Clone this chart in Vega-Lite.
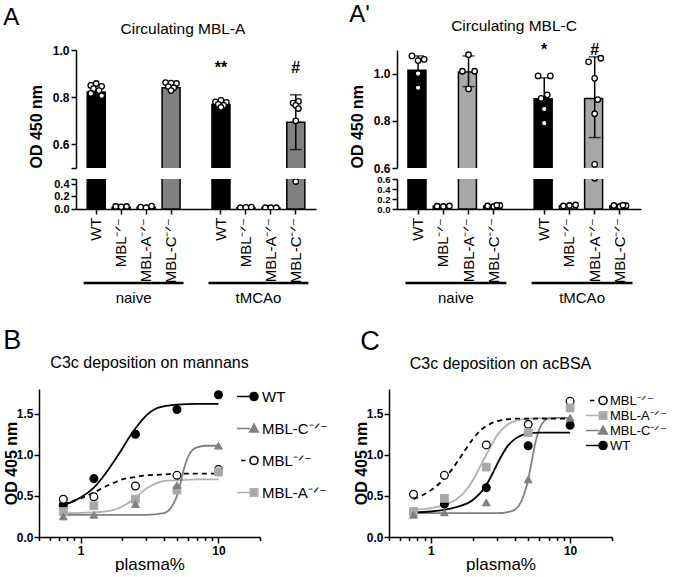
{
 "$schema": "https://vega.github.io/schema/vega-lite/v6.json",
 "background": "white",
 "padding": {"left": 3, "top": 3, "right": 0, "bottom": 0},
 "config": {
  "font": "Liberation Sans",
  "view": {"stroke": null},
  "axis": {"grid": false, "domainColor": "black", "tickColor": "black", "labelColor": "black", "titleColor": "black", "domainWidth": 1.5, "tickWidth": 1.5, "tickCount": 40, "labelOverlap": false},
  "title": {"color": "black", "fontWeight": "normal"},
  "legend": {"labelColor": "black"}
 },
 "datasets": {
  "barsA": [
   {"k":"naive|WT","g":"WT","m":0.822},
   {"k":"naive|MBL⁻ᐟ⁻","g":"MBL","m":0.03},
   {"k":"naive|MBL-A⁻ᐟ⁻","g":"MBL-A","m":0.03},
   {"k":"naive|MBL-C⁻ᐟ⁻","g":"MBL-C","m":0.84},
   {"k":"tMCAo|WT","g":"WT","m":0.769,"sig":"**"},
   {"k":"tMCAo|MBL⁻ᐟ⁻","g":"MBL","m":0.022},
   {"k":"tMCAo|MBL-A⁻ᐟ⁻","g":"MBL-A","m":0.018},
   {"k":"tMCAo|MBL-C⁻ᐟ⁻","g":"MBL-C","m":0.694,"lo":0.578,"hi":0.81,"sig":"#"}
  ],
  "ptsA": [
   {"k":"naive|WT","v":0.858,"r":4},{"k":"naive|WT","v":0.85,"r":2},{"k":"naive|WT","v":0.846,"r":6},{"k":"naive|WT","v":0.836,"r":3},{"k":"naive|WT","v":0.828,"r":5},{"k":"naive|WT","v":0.816,"r":2},{"k":"naive|WT","v":0.806,"r":6},
   {"k":"naive|MBL⁻ᐟ⁻","v":0.04,"r":2},{"k":"naive|MBL⁻ᐟ⁻","v":0.035,"r":4},{"k":"naive|MBL⁻ᐟ⁻","v":0.04,"r":6},
   {"k":"naive|MBL-A⁻ᐟ⁻","v":0.03,"r":2},{"k":"naive|MBL-A⁻ᐟ⁻","v":0.02,"r":4},{"k":"naive|MBL-A⁻ᐟ⁻","v":0.045,"r":6},
   {"k":"naive|MBL-C⁻ᐟ⁻","v":0.862,"r":2},{"k":"naive|MBL-C⁻ᐟ⁻","v":0.86,"r":4},{"k":"naive|MBL-C⁻ᐟ⁻","v":0.858,"r":6},{"k":"naive|MBL-C⁻ᐟ⁻","v":0.845,"r":3},{"k":"naive|MBL-C⁻ᐟ⁻","v":0.84,"r":5},{"k":"naive|MBL-C⁻ᐟ⁻","v":0.828,"r":4},
   {"k":"tMCAo|WT","v":0.787,"r":4},{"k":"tMCAo|WT","v":0.78,"r":2},{"k":"tMCAo|WT","v":0.778,"r":6},{"k":"tMCAo|WT","v":0.77,"r":3},{"k":"tMCAo|WT","v":0.765,"r":5},{"k":"tMCAo|WT","v":0.757,"r":4},
   {"k":"tMCAo|MBL⁻ᐟ⁻","v":0.02,"r":2},{"k":"tMCAo|MBL⁻ᐟ⁻","v":0.025,"r":4},{"k":"tMCAo|MBL⁻ᐟ⁻","v":0.03,"r":6},
   {"k":"tMCAo|MBL-A⁻ᐟ⁻","v":0.02,"r":2},{"k":"tMCAo|MBL-A⁻ᐟ⁻","v":0.02,"r":4},{"k":"tMCAo|MBL-A⁻ᐟ⁻","v":0.02,"r":6},
   {"k":"tMCAo|MBL-C⁻ᐟ⁻","v":0.782,"r":5},{"k":"tMCAo|MBL-C⁻ᐟ⁻","v":0.775,"r":3},{"k":"tMCAo|MBL-C⁻ᐟ⁻","v":0.765,"r":4},{"k":"tMCAo|MBL-C⁻ᐟ⁻","v":0.752,"r":5},{"k":"tMCAo|MBL-C⁻ᐟ⁻","v":0.70,"r":4},{"k":"tMCAo|MBL-C⁻ᐟ⁻","v":0.44,"r":4}
  ],
  "barsC": [
   {"k":"naive|WT","g":"WT","m":1.014,"lo":0.954,"hi":1.075},
   {"k":"naive|MBL⁻ᐟ⁻","g":"MBL","m":0.055},
   {"k":"naive|MBL-A⁻ᐟ⁻","g":"MBL-A","m":1.007,"lo":0.945,"hi":1.075},
   {"k":"naive|MBL-C⁻ᐟ⁻","g":"MBL-C","m":0.06},
   {"k":"tMCAo|WT","g":"WT","m":0.893,"lo":0.805,"hi":0.982,"sig":"*"},
   {"k":"tMCAo|MBL⁻ᐟ⁻","g":"MBL","m":0.065},
   {"k":"tMCAo|MBL-A⁻ᐟ⁻","g":"MBL-A","m":0.894,"lo":0.729,"hi":1.071,"sig":"#"},
   {"k":"tMCAo|MBL-C⁻ᐟ⁻","g":"MBL-C","m":0.06}
  ],
  "ptsC": [
   {"k":"naive|WT","v":1.075,"r":2},{"k":"naive|WT","v":1.06,"r":6},{"k":"naive|WT","v":1.055,"r":4},{"k":"naive|WT","v":1.0,"r":4},{"k":"naive|WT","v":0.94,"r":4},
   {"k":"naive|MBL⁻ᐟ⁻","v":0.055,"r":2},{"k":"naive|MBL⁻ᐟ⁻","v":0.05,"r":4},{"k":"naive|MBL⁻ᐟ⁻","v":0.06,"r":6},
   {"k":"naive|MBL-A⁻ᐟ⁻","v":1.08,"r":4},{"k":"naive|MBL-A⁻ᐟ⁻","v":1.01,"r":2},{"k":"naive|MBL-A⁻ᐟ⁻","v":1.01,"r":6},{"k":"naive|MBL-A⁻ᐟ⁻","v":0.935,"r":4},
   {"k":"naive|MBL-C⁻ᐟ⁻","v":0.06,"r":2},{"k":"naive|MBL-C⁻ᐟ⁻","v":0.05,"r":4},{"k":"naive|MBL-C⁻ᐟ⁻","v":0.07,"r":6},{"k":"naive|MBL-C⁻ᐟ⁻","v":0.075,"r":5},
   {"k":"tMCAo|WT","v":0.99,"r":2},{"k":"tMCAo|WT","v":0.99,"r":6},{"k":"tMCAo|WT","v":0.91,"r":5},{"k":"tMCAo|WT","v":0.895,"r":3},{"k":"tMCAo|WT","v":0.85,"r":4},{"k":"tMCAo|WT","v":0.79,"r":4},
   {"k":"tMCAo|MBL⁻ᐟ⁻","v":0.06,"r":2},{"k":"tMCAo|MBL⁻ᐟ⁻","v":0.07,"r":4},{"k":"tMCAo|MBL⁻ᐟ⁻","v":0.08,"r":6},
   {"k":"tMCAo|MBL-A⁻ᐟ⁻","v":1.065,"r":6},{"k":"tMCAo|MBL-A⁻ᐟ⁻","v":1.05,"r":2},{"k":"tMCAo|MBL-A⁻ᐟ⁻","v":0.98,"r":4},{"k":"tMCAo|MBL-A⁻ᐟ⁻","v":0.89,"r":5},{"k":"tMCAo|MBL-A⁻ᐟ⁻","v":0.83,"r":4},{"k":"tMCAo|MBL-A⁻ᐟ⁻","v":0.615,"r":4},
   {"k":"tMCAo|MBL-C⁻ᐟ⁻","v":0.07,"r":2},{"k":"tMCAo|MBL-C⁻ᐟ⁻","v":0.05,"r":4},{"k":"tMCAo|MBL-C⁻ᐟ⁻","v":0.065,"r":6},{"k":"tMCAo|MBL-C⁻ᐟ⁻","v":0.075,"r":5}
  ],
  "groups": [
   {"grp":"naive"},
   {"grp":"tMCAo"}
  ],
  "curveB": [
   {"g":"WT","x":0.75,"y":0.39},{"g":"WT","x":0.9,"y":0.44},{"g":"WT","x":1.0,"y":0.48},{"g":"WT","x":1.25,"y":0.6},{"g":"WT","x":1.5,"y":0.76},{"g":"WT","x":1.75,"y":0.92},{"g":"WT","x":2.0,"y":1.07},{"g":"WT","x":2.25,"y":1.21},{"g":"WT","x":2.5,"y":1.32},{"g":"WT","x":2.75,"y":1.41},{"g":"WT","x":3.0,"y":1.48},{"g":"WT","x":3.5,"y":1.56},{"g":"WT","x":4.0,"y":1.59},{"g":"WT","x":5.0,"y":1.61},{"g":"WT","x":7.0,"y":1.62},{"g":"WT","x":10,"y":1.62},
   {"g":"MBL⁻ᐟ⁻","x":0.75,"y":0.4},{"g":"MBL⁻ᐟ⁻","x":1.0,"y":0.47},{"g":"MBL⁻ᐟ⁻","x":1.25,"y":0.54},{"g":"MBL⁻ᐟ⁻","x":1.5,"y":0.61},{"g":"MBL⁻ᐟ⁻","x":1.75,"y":0.66},{"g":"MBL⁻ᐟ⁻","x":2.0,"y":0.7},{"g":"MBL⁻ᐟ⁻","x":2.5,"y":0.73},{"g":"MBL⁻ᐟ⁻","x":3.0,"y":0.75},{"g":"MBL⁻ᐟ⁻","x":4.0,"y":0.76},{"g":"MBL⁻ᐟ⁻","x":5.0,"y":0.77},{"g":"MBL⁻ᐟ⁻","x":7.0,"y":0.77},{"g":"MBL⁻ᐟ⁻","x":10,"y":0.77},
   {"g":"MBL-A⁻ᐟ⁻","x":0.75,"y":0.29},{"g":"MBL-A⁻ᐟ⁻","x":1.25,"y":0.3},{"g":"MBL-A⁻ᐟ⁻","x":1.5,"y":0.31},{"g":"MBL-A⁻ᐟ⁻","x":1.75,"y":0.33},{"g":"MBL-A⁻ᐟ⁻","x":2.0,"y":0.37},{"g":"MBL-A⁻ᐟ⁻","x":2.25,"y":0.42},{"g":"MBL-A⁻ᐟ⁻","x":2.5,"y":0.48},{"g":"MBL-A⁻ᐟ⁻","x":2.75,"y":0.54},{"g":"MBL-A⁻ᐟ⁻","x":3.0,"y":0.59},{"g":"MBL-A⁻ᐟ⁻","x":3.5,"y":0.65},{"g":"MBL-A⁻ᐟ⁻","x":4.0,"y":0.68},{"g":"MBL-A⁻ᐟ⁻","x":5.0,"y":0.69},{"g":"MBL-A⁻ᐟ⁻","x":7.0,"y":0.7},{"g":"MBL-A⁻ᐟ⁻","x":10,"y":0.7},
   {"g":"MBL-C⁻ᐟ⁻","x":0.75,"y":0.27},{"g":"MBL-C⁻ᐟ⁻","x":2.0,"y":0.27},{"g":"MBL-C⁻ᐟ⁻","x":3.0,"y":0.27},{"g":"MBL-C⁻ᐟ⁻","x":4.0,"y":0.29},{"g":"MBL-C⁻ᐟ⁻","x":4.5,"y":0.35},{"g":"MBL-C⁻ᐟ⁻","x":4.8,"y":0.43},{"g":"MBL-C⁻ᐟ⁻","x":5.0,"y":0.5},{"g":"MBL-C⁻ᐟ⁻","x":5.3,"y":0.65},{"g":"MBL-C⁻ᐟ⁻","x":5.6,"y":0.82},{"g":"MBL-C⁻ᐟ⁻","x":6.0,"y":0.97},{"g":"MBL-C⁻ᐟ⁻","x":6.5,"y":1.06},{"g":"MBL-C⁻ᐟ⁻","x":7.0,"y":1.09},{"g":"MBL-C⁻ᐟ⁻","x":8.0,"y":1.11},{"g":"MBL-C⁻ᐟ⁻","x":10,"y":1.11}
  ],
  "ptsB": [
   {"g":"WT","x":0.75,"y":0.39},{"g":"WT","x":1.25,"y":0.71},{"g":"WT","x":2.5,"y":1.25},{"g":"WT","x":5,"y":1.55},{"g":"WT","x":10,"y":1.73},
   {"g":"MBL⁻ᐟ⁻","x":0.75,"y":0.46},{"g":"MBL⁻ᐟ⁻","x":1.25,"y":0.49},{"g":"MBL⁻ᐟ⁻","x":2.5,"y":0.62},{"g":"MBL⁻ᐟ⁻","x":5,"y":0.75},{"g":"MBL⁻ᐟ⁻","x":10,"y":0.82},
   {"g":"MBL-A⁻ᐟ⁻","x":0.75,"y":0.31},{"g":"MBL-A⁻ᐟ⁻","x":1.25,"y":0.38},{"g":"MBL-A⁻ᐟ⁻","x":2.5,"y":0.46},{"g":"MBL-A⁻ᐟ⁻","x":5,"y":0.57},{"g":"MBL-A⁻ᐟ⁻","x":10,"y":0.79},
   {"g":"MBL-C⁻ᐟ⁻","x":0.75,"y":0.25},{"g":"MBL-C⁻ᐟ⁻","x":1.25,"y":0.27},{"g":"MBL-C⁻ᐟ⁻","x":2.5,"y":0.4},{"g":"MBL-C⁻ᐟ⁻","x":5,"y":0.63},{"g":"MBL-C⁻ᐟ⁻","x":10,"y":1.11}
  ],
  "curveC": [
   {"g":"MBL⁻ᐟ⁻","x":0.75,"y":0.46},{"g":"MBL⁻ᐟ⁻","x":1.0,"y":0.57},{"g":"MBL⁻ᐟ⁻","x":1.25,"y":0.71},{"g":"MBL⁻ᐟ⁻","x":1.5,"y":0.88},{"g":"MBL⁻ᐟ⁻","x":1.75,"y":1.05},{"g":"MBL⁻ᐟ⁻","x":2.0,"y":1.19},{"g":"MBL⁻ᐟ⁻","x":2.25,"y":1.29},{"g":"MBL⁻ᐟ⁻","x":2.5,"y":1.35},{"g":"MBL⁻ᐟ⁻","x":3.0,"y":1.41},{"g":"MBL⁻ᐟ⁻","x":3.5,"y":1.43},{"g":"MBL⁻ᐟ⁻","x":4.0,"y":1.44},{"g":"MBL⁻ᐟ⁻","x":6.0,"y":1.44},{"g":"MBL⁻ᐟ⁻","x":10,"y":1.44},
   {"g":"MBL-A⁻ᐟ⁻","x":0.75,"y":0.33},{"g":"MBL-A⁻ᐟ⁻","x":1.0,"y":0.35},{"g":"MBL-A⁻ᐟ⁻","x":1.25,"y":0.39},{"g":"MBL-A⁻ᐟ⁻","x":1.5,"y":0.45},{"g":"MBL-A⁻ᐟ⁻","x":1.75,"y":0.55},{"g":"MBL-A⁻ᐟ⁻","x":2.0,"y":0.69},{"g":"MBL-A⁻ᐟ⁻","x":2.25,"y":0.85},{"g":"MBL-A⁻ᐟ⁻","x":2.5,"y":1.0},{"g":"MBL-A⁻ᐟ⁻","x":2.75,"y":1.13},{"g":"MBL-A⁻ᐟ⁻","x":3.0,"y":1.24},{"g":"MBL-A⁻ᐟ⁻","x":3.5,"y":1.36},{"g":"MBL-A⁻ᐟ⁻","x":4.0,"y":1.41},{"g":"MBL-A⁻ᐟ⁻","x":5.0,"y":1.44},{"g":"MBL-A⁻ᐟ⁻","x":7.0,"y":1.45},{"g":"MBL-A⁻ᐟ⁻","x":10,"y":1.45},
   {"g":"MBL-C⁻ᐟ⁻","x":0.75,"y":0.29},{"g":"MBL-C⁻ᐟ⁻","x":2.0,"y":0.29},{"g":"MBL-C⁻ᐟ⁻","x":3.0,"y":0.29},{"g":"MBL-C⁻ᐟ⁻","x":3.5,"y":0.3},{"g":"MBL-C⁻ᐟ⁻","x":4.0,"y":0.33},{"g":"MBL-C⁻ᐟ⁻","x":4.5,"y":0.45},{"g":"MBL-C⁻ᐟ⁻","x":4.8,"y":0.58},{"g":"MBL-C⁻ᐟ⁻","x":5.0,"y":0.7},{"g":"MBL-C⁻ᐟ⁻","x":5.3,"y":0.92},{"g":"MBL-C⁻ᐟ⁻","x":5.6,"y":1.13},{"g":"MBL-C⁻ᐟ⁻","x":6.0,"y":1.31},{"g":"MBL-C⁻ᐟ⁻","x":6.5,"y":1.41},{"g":"MBL-C⁻ᐟ⁻","x":7.0,"y":1.44},{"g":"MBL-C⁻ᐟ⁻","x":8.0,"y":1.45},{"g":"MBL-C⁻ᐟ⁻","x":10,"y":1.45},
   {"g":"WT","x":0.75,"y":0.3},{"g":"WT","x":1.0,"y":0.31},{"g":"WT","x":1.25,"y":0.33},{"g":"WT","x":1.5,"y":0.36},{"g":"WT","x":2.0,"y":0.45},{"g":"WT","x":2.25,"y":0.53},{"g":"WT","x":2.5,"y":0.63},{"g":"WT","x":2.75,"y":0.76},{"g":"WT","x":3.0,"y":0.89},{"g":"WT","x":3.25,"y":1.0},{"g":"WT","x":3.5,"y":1.09},{"g":"WT","x":4.0,"y":1.19},{"g":"WT","x":4.5,"y":1.24},{"g":"WT","x":5.0,"y":1.26},{"g":"WT","x":6.0,"y":1.27},{"g":"WT","x":10,"y":1.27}
  ],
  "ptsC2": [
   {"g":"WT","x":0.75,"y":0.3},{"g":"WT","x":1.25,"y":0.4},{"g":"WT","x":2.5,"y":0.6},{"g":"WT","x":5,"y":1.11},{"g":"WT","x":10,"y":1.36},
   {"g":"MBL⁻ᐟ⁻","x":0.75,"y":0.52},{"g":"MBL⁻ᐟ⁻","x":1.25,"y":0.75},{"g":"MBL⁻ᐟ⁻","x":2.5,"y":1.12},{"g":"MBL⁻ᐟ⁻","x":5,"y":1.37},{"g":"MBL⁻ᐟ⁻","x":10,"y":1.65},
   {"g":"MBL-A⁻ᐟ⁻","x":0.75,"y":0.31},{"g":"MBL-A⁻ᐟ⁻","x":1.25,"y":0.47},{"g":"MBL-A⁻ᐟ⁻","x":2.5,"y":0.85},{"g":"MBL-A⁻ᐟ⁻","x":5,"y":1.27},{"g":"MBL-A⁻ᐟ⁻","x":10,"y":1.57},
   {"g":"MBL-C⁻ᐟ⁻","x":0.75,"y":0.27},{"g":"MBL-C⁻ᐟ⁻","x":1.25,"y":0.3},{"g":"MBL-C⁻ᐟ⁻","x":2.5,"y":0.42},{"g":"MBL-C⁻ᐟ⁻","x":5,"y":0.7},{"g":"MBL-C⁻ᐟ⁻","x":10,"y":1.45}
  ],
  "spacer": [{"s": 1}]
 },
 "resolve": {"scale": {"fill": "independent", "stroke": "independent", "color": "independent", "shape": "independent", "strokeDash": "independent", "xOffset": "independent"}},
 "columns": 1,
 "spacing": 21,
 "concat": [
  {
   "spacing": -40,
   "resolve": {"scale": {"fill": "independent", "stroke": "independent", "color": "independent", "shape": "independent", "strokeDash": "independent", "xOffset": "independent"}},
   "hconcat": [
    {"width": 1, "height": 1, "data": {"name": "spacer"}, "mark": {"type": "point", "opacity": 0}, "encoding": {}},
    {
     "spacing": 33,
     "resolve": {"scale": {"fill": "independent", "stroke": "independent", "color": "independent", "shape": "independent", "strokeDash": "independent", "xOffset": "independent"}},
     "hconcat": [
      {
       "title": {"text": "A", "anchor": "start", "fontSize": 24, "dx": -25, "offset": -8},
       "spacing": 11,
       "bounds": "flush",
       "resolve": {"scale": {"fill": "independent", "xOffset": "independent"}},
       "vconcat": [
        {
         "width": 240, "height": 118,
         "title": {"text": "Circulating MBL-A", "fontSize": 15.5, "dx": -13, "offset": 7},
         "layer": [
          {"data": {"name": "barsA"}, "mark": {"type": "bar", "clip": true, "stroke": "black", "strokeWidth": 1.5},
           "encoding": {
            "x": {"field": "k", "type": "nominal", "scale": {"domain": ["naive|WT","naive|MBL⁻ᐟ⁻","naive|MBL-A⁻ᐟ⁻","naive|MBL-C⁻ᐟ⁻","gap","tMCAo|WT","tMCAo|MBL⁻ᐟ⁻","tMCAo|MBL-A⁻ᐟ⁻","tMCAo|MBL-C⁻ᐟ⁻"], "paddingInner": 0.28, "paddingOuter": 0.45}, "axis": null},
            "y": {"field": "m", "type": "quantitative", "scale": {"domain": [0.5, 1.0], "zero": false, "nice": false},
                  "axis": {"values": [0.5, 0.6, 0.8, 1.0], "labelExpr": "datum.value < 0.55 ? '' : format(datum.value, '.1f')", "title": "OD 450 nm", "titleFontSize": 16, "titleFontWeight": "bold", "titleAnchor": "start", "titlePadding": 8, "labelFontSize": 12, "labelFontWeight": "bold", "tickSize": 5, "labelPadding": 2}},
            "y2": {"datum": 0},
            "fill": {"field": "g", "type": "nominal", "scale": {"domain": ["WT","MBL","MBL-A","MBL-C"], "range": ["black","white","#a8a8a8","#808080"]}, "legend": null}
           }},
          {"data": {"name": "barsA"}, "transform": [{"filter": "isValid(datum.hi)"}], "mark": {"type": "rule", "clip": true, "strokeWidth": 1.5, "color": "black"},
           "encoding": {"x": {"field": "k", "type": "nominal"}, "y": {"field": "lo", "type": "quantitative"}, "y2": {"field": "hi"}}},
          {"data": {"name": "barsA"}, "transform": [{"filter": "isValid(datum.hi)"}], "mark": {"type": "tick", "clip": true, "thickness": 1.5, "size": 12, "color": "black", "orient": "horizontal"},
           "encoding": {"x": {"field": "k", "type": "nominal"}, "y": {"field": "lo", "type": "quantitative"}}},
          {"data": {"name": "barsA"}, "transform": [{"filter": "isValid(datum.hi)"}], "mark": {"type": "tick", "clip": true, "thickness": 1.5, "size": 12, "color": "black", "orient": "horizontal"},
           "encoding": {"x": {"field": "k", "type": "nominal"}, "y": {"field": "hi", "type": "quantitative"}}},
          {"data": {"name": "ptsA"}, "mark": {"type": "point", "shape": "circle", "filled": true, "fill": "white", "stroke": "black", "strokeWidth": 1.3, "size": 30, "opacity": 1, "clip": true},
           "encoding": {"x": {"field": "k", "type": "nominal"}, "xOffset": {"field": "r", "type": "ordinal", "scale": {"domain": [1,2,3,4,5,6,7], "paddingOuter": 0.3}}, "y": {"field": "v", "type": "quantitative"}}},
          {"data": {"name": "barsA"}, "transform": [{"filter": "isValid(datum.sig)"}], "mark": {"type": "text", "fontSize": 16, "fontWeight": "bold", "baseline": "alphabetic", "align": "center"},
           "encoding": {"x": {"field": "k", "type": "nominal"}, "y": {"datum": 0.904}, "text": {"field": "sig"}}}
         ]
        },
        {
         "width": 240, "height": 30,
         "layer": [
          {"data": {"name": "barsA"}, "mark": {"type": "bar", "clip": true, "stroke": "black", "strokeWidth": 1.5},
           "encoding": {
            "x": {"field": "k", "type": "nominal", "scale": {"domain": ["naive|WT","naive|MBL⁻ᐟ⁻","naive|MBL-A⁻ᐟ⁻","naive|MBL-C⁻ᐟ⁻","gap","tMCAo|WT","tMCAo|MBL⁻ᐟ⁻","tMCAo|MBL-A⁻ᐟ⁻","tMCAo|MBL-C⁻ᐟ⁻"], "paddingInner": 0.28, "paddingOuter": 0.45},
                  "axis": {"values": ["naive|WT","naive|MBL⁻ᐟ⁻","naive|MBL-A⁻ᐟ⁻","naive|MBL-C⁻ᐟ⁻","tMCAo|WT","tMCAo|MBL⁻ᐟ⁻","tMCAo|MBL-A⁻ᐟ⁻","tMCAo|MBL-C⁻ᐟ⁻"], "labelExpr": "split(datum.label, '|')[1]", "labelAngle": -90, "labelFontSize": 15, "tickSize": 5, "labelPadding": 3, "title": null}},
            "y": {"field": "m", "type": "quantitative", "scale": {"domain": [0, 0.48], "nice": false},
                  "axis": {"values": [0, 0.2, 0.4, 0.48], "labelExpr": "datum.value > 0.45 ? '' : format(datum.value, '.1f')", "title": null, "labelFontSize": 11, "labelFontWeight": "bold", "tickSize": 5, "labelPadding": 2}},
            "y2": {"datum": 0},
            "fill": {"field": "g", "type": "nominal", "scale": {"domain": ["WT","MBL","MBL-A","MBL-C"], "range": ["black","white","#a8a8a8","#808080"]}, "legend": null}
           }},
          {"data": {"name": "ptsA"}, "mark": {"type": "point", "shape": "circle", "filled": true, "fill": "white", "stroke": "black", "strokeWidth": 1.3, "size": 30, "opacity": 1, "clip": true},
           "encoding": {"x": {"field": "k", "type": "nominal"}, "xOffset": {"field": "r", "type": "ordinal", "scale": {"domain": [1,2,3,4,5,6,7], "paddingOuter": 0.3}}, "y": {"field": "v", "type": "quantitative"}}}
         ]
        },
        {
         "width": 240, "height": 83,
         "data": {"name": "groups"},
         "layer": [
          {"mark": {"type": "rule", "strokeWidth": 2.5, "color": "black"},
           "encoding": {
            "x": {"field": "grp", "type": "nominal", "bandPosition": 0, "scale": {"domain": ["naive", "tMCAo"], "paddingInner": 0.2, "paddingOuter": 0.0615}, "axis": null},
            "x2": {"field": "grp", "bandPosition": 1},
            "y": {"datum": 20, "type": "quantitative", "scale": {"domain": [0, 83], "nice": false}, "axis": null}
           }},
          {"mark": {"type": "text", "fontSize": 15, "baseline": "alphabetic", "align": "center"},
           "encoding": {
            "x": {"field": "grp", "type": "nominal"},
            "y": {"datum": 0, "type": "quantitative"},
            "text": {"field": "grp"}
           }}
         ]
        }
       ]
      },
      {
       "title": {"text": "A'", "anchor": "start", "fontSize": 24, "dx": 0, "offset": -8},
       "spacing": 11,
       "bounds": "flush",
       "resolve": {"scale": {"fill": "independent", "xOffset": "independent"}},
       "vconcat": [
        {
         "width": 244, "height": 118,
         "title": {"text": "Circulating MBL-C", "fontSize": 15.5, "dx": -5, "offset": 7},
         "layer": [
          {"data": {"name": "barsC"}, "mark": {"type": "bar", "clip": true, "stroke": "black", "strokeWidth": 1.5},
           "encoding": {
            "x": {"field": "k", "type": "nominal", "scale": {"domain": ["naive|WT","naive|MBL⁻ᐟ⁻","naive|MBL-A⁻ᐟ⁻","naive|MBL-C⁻ᐟ⁻","gap","tMCAo|WT","tMCAo|MBL⁻ᐟ⁻","tMCAo|MBL-A⁻ᐟ⁻","tMCAo|MBL-C⁻ᐟ⁻"], "paddingInner": 0.2, "paddingOuter": 0.435}, "axis": null},
            "y": {"field": "m", "type": "quantitative", "scale": {"domain": [0.6, 1.1], "zero": false, "nice": false},
                  "axis": {"values": [0.6, 0.8, 1.0], "format": ".1f", "title": "OD 450 nm", "titleFontSize": 16, "titleFontWeight": "bold", "titleAnchor": "start", "titlePadding": 8, "labelFontSize": 12, "labelFontWeight": "bold", "tickSize": 5, "labelPadding": 2}},
            "y2": {"datum": 0},
            "fill": {"field": "g", "type": "nominal", "scale": {"domain": ["WT","MBL","MBL-A","MBL-C"], "range": ["black","white","#a8a8a8","#808080"]}, "legend": null}
           }},
          {"data": {"name": "barsC"}, "transform": [{"filter": "isValid(datum.hi)"}], "mark": {"type": "rule", "clip": true, "strokeWidth": 1.5, "color": "black"},
           "encoding": {"x": {"field": "k", "type": "nominal"}, "y": {"field": "lo", "type": "quantitative"}, "y2": {"field": "hi"}}},
          {"data": {"name": "barsC"}, "transform": [{"filter": "isValid(datum.hi)"}], "mark": {"type": "tick", "clip": true, "thickness": 1.5, "size": 12, "color": "black", "orient": "horizontal"},
           "encoding": {"x": {"field": "k", "type": "nominal"}, "y": {"field": "lo", "type": "quantitative"}}},
          {"data": {"name": "barsC"}, "transform": [{"filter": "isValid(datum.hi)"}], "mark": {"type": "tick", "clip": true, "thickness": 1.5, "size": 12, "color": "black", "orient": "horizontal"},
           "encoding": {"x": {"field": "k", "type": "nominal"}, "y": {"field": "hi", "type": "quantitative"}}},
          {"data": {"name": "ptsC"}, "mark": {"type": "point", "shape": "circle", "filled": true, "fill": "white", "stroke": "black", "strokeWidth": 1.3, "size": 30, "opacity": 1, "clip": true},
           "encoding": {"x": {"field": "k", "type": "nominal"}, "xOffset": {"field": "r", "type": "ordinal", "scale": {"domain": [1,2,3,4,5,6,7], "paddingOuter": 0.3}}, "y": {"field": "v", "type": "quantitative"}}},
          {"data": {"name": "barsC"}, "transform": [{"filter": "isValid(datum.sig)"}], "mark": {"type": "text", "fontSize": 16, "fontWeight": "bold", "baseline": "alphabetic", "align": "center"},
           "encoding": {"x": {"field": "k", "type": "nominal"}, "y": {"datum": 1.079}, "text": {"field": "sig"}}}
         ]
        },
        {
         "width": 244, "height": 30,
         "layer": [
          {"data": {"name": "barsC"}, "mark": {"type": "bar", "clip": true, "stroke": "black", "strokeWidth": 1.5},
           "encoding": {
            "x": {"field": "k", "type": "nominal", "scale": {"domain": ["naive|WT","naive|MBL⁻ᐟ⁻","naive|MBL-A⁻ᐟ⁻","naive|MBL-C⁻ᐟ⁻","gap","tMCAo|WT","tMCAo|MBL⁻ᐟ⁻","tMCAo|MBL-A⁻ᐟ⁻","tMCAo|MBL-C⁻ᐟ⁻"], "paddingInner": 0.2, "paddingOuter": 0.435},
                  "axis": {"values": ["naive|WT","naive|MBL⁻ᐟ⁻","naive|MBL-A⁻ᐟ⁻","naive|MBL-C⁻ᐟ⁻","tMCAo|WT","tMCAo|MBL⁻ᐟ⁻","tMCAo|MBL-A⁻ᐟ⁻","tMCAo|MBL-C⁻ᐟ⁻"], "labelExpr": "split(datum.label, '|')[1]", "labelAngle": -90, "labelFontSize": 15, "tickSize": 5, "labelPadding": 3, "title": null}},
            "y": {"field": "m", "type": "quantitative", "scale": {"domain": [0, 0.6], "nice": false},
                  "axis": {"values": [0, 0.2, 0.4, 0.6], "format": ".1f", "title": null, "labelFontSize": 9.5, "labelFontWeight": "bold", "tickSize": 5, "labelPadding": 2}},
            "y2": {"datum": 0},
            "fill": {"field": "g", "type": "nominal", "scale": {"domain": ["WT","MBL","MBL-A","MBL-C"], "range": ["black","white","#a8a8a8","#808080"]}, "legend": null}
           }},
          {"data": {"name": "ptsC"}, "mark": {"type": "point", "shape": "circle", "filled": true, "fill": "white", "stroke": "black", "strokeWidth": 1.3, "size": 30, "opacity": 1, "clip": true},
           "encoding": {"x": {"field": "k", "type": "nominal"}, "xOffset": {"field": "r", "type": "ordinal", "scale": {"domain": [1,2,3,4,5,6,7], "paddingOuter": 0.3}}, "y": {"field": "v", "type": "quantitative"}}}
         ]
        },
        {
         "width": 244, "height": 83,
         "data": {"name": "groups"},
         "layer": [
          {"mark": {"type": "rule", "strokeWidth": 2.5, "color": "black"},
           "encoding": {
            "x": {"field": "grp", "type": "nominal", "bandPosition": 0, "scale": {"domain": ["naive", "tMCAo"], "paddingInner": 0.2, "paddingOuter": 0.0675}, "axis": null},
            "x2": {"field": "grp", "bandPosition": 1},
            "y": {"datum": 20, "type": "quantitative", "scale": {"domain": [0, 83], "nice": false}, "axis": null}
           }},
          {"mark": {"type": "text", "fontSize": 15, "baseline": "alphabetic", "align": "center"},
           "encoding": {
            "x": {"field": "grp", "type": "nominal"},
            "y": {"datum": 0, "type": "quantitative"},
            "text": {"field": "grp"}
           }}
         ]
        }
       ]
      }
     ]
    }
   ]
  },
  {
   "spacing": 25,
   "resolve": {"scale": {"fill": "independent", "stroke": "independent", "color": "independent", "shape": "independent", "strokeDash": "independent", "xOffset": "independent"}},
   "hconcat": [
    {
     "title": {"text": "B", "anchor": "start", "fontSize": 27, "dx": 0, "offset": 0},
     "vconcat": [
      {
       "width": 221, "height": 148,
       "title": {"text": "C3c deposition on mannans", "fontSize": 16, "offset": 17},
       "encoding": {
        "x": {"field": "x", "type": "quantitative", "scale": {"type": "log", "domain": [0.5, 20], "nice": false},
              "axis": {"values": [0.5,0.6,0.7,0.8,0.9,1,2,3,4,5,6,7,8,9,10,20], "labelExpr": "datum.value == 1 || datum.value == 10 ? datum.label : ''", "format": "~g", "tickSize": {"condition": {"test": "datum.value == 1 || datum.value == 10", "value": 6}, "value": 3.5}, "title": "plasma%", "titleFontSize": 17, "titleFontWeight": "normal", "labelFontSize": 12, "labelFontWeight": "bold", "labelFlush": false, "labelPadding": 2, "titlePadding": 0}},
        "y": {"field": "y", "type": "quantitative", "scale": {"domain": [0, 1.8], "nice": false},
              "axis": {"values": [0, 0.5, 1, 1.5], "format": ".1f", "title": "OD 405 nm", "titleFontSize": 16, "titleFontWeight": "bold", "titlePadding": -3, "labelFontSize": 12, "labelFontWeight": "bold", "tickSize": 5, "labelPadding": 1}}
       },
       "layer": [
        {"data": {"name": "curveB"}, "transform": [{"filter": "datum.g !== 'MBL⁻ᐟ⁻'"}], "mark": {"type": "line", "strokeWidth": 1.8, "interpolate": "monotone"},
         "encoding": {
          "color": {"field": "g", "type": "nominal", "scale": {"domain": ["WT","MBL-C⁻ᐟ⁻","MBL⁻ᐟ⁻","MBL-A⁻ᐟ⁻"], "range": ["black","#808080","black","#b0b0b0"]},
                    "legend": {"title": null, "orient": "right", "offset": -20, "padding": 0, "labelFontSize": 15, "symbolSize": 100, "rowPadding": 16, "labelOffset": 6,
                               "encode": {"symbols": {"update": {
                                 "shape": {"signal": "datum.value === 'WT' ? 'M-2.3,0H0.3M0.3,0A0.8,0.8,0,1,1,1.9,0A0.8,0.8,0,1,1,0.3,0Z' : datum.value === 'MBL⁻ᐟ⁻' ? 'M-1.5,0H-0.6M0.3,0A0.8,0.8,0,1,1,1.9,0A0.8,0.8,0,1,1,0.3,0Z' : datum.value === 'MBL-A⁻ᐟ⁻' ? 'M-2.3,0H0.35M0.35,-0.75H1.85V0.75H0.35Z' : 'M-2.3,0H0.3M1.1,-0.85L1.95,0.7H0.25Z'"},
                                 "fill": {"signal": "datum.value === 'WT' ? 'black' : datum.value === 'MBL⁻ᐟ⁻' ? 'white' : datum.value === 'MBL-A⁻ᐟ⁻' ? '#a8a8a8' : '#808080'"},
                                 "stroke": {"signal": "datum.value === 'MBL-A⁻ᐟ⁻' ? '#a8a8a8' : datum.value === 'MBL-C⁻ᐟ⁻' ? '#808080' : 'black'"},
                                 "strokeWidth": {"value": 1.6}, "opacity": {"value": 1}}}}}}
         }},
        {"data": {"name": "curveB"}, "transform": [{"filter": "datum.g === 'MBL⁻ᐟ⁻'"}], "mark": {"type": "line", "strokeWidth": 1.8, "interpolate": "monotone", "strokeDash": [5, 4]},
         "encoding": {"color": {"field": "g", "type": "nominal"}}},
        {"data": {"name": "ptsB"}, "transform": [{"filter": "datum.g === 'WT'"}], "mark": {"type": "point", "shape": "circle", "filled": true, "size": 60, "fill": "black", "stroke": "black", "strokeWidth": 1.3, "opacity": 1}},
        {"data": {"name": "ptsB"}, "transform": [{"filter": "datum.g === 'MBL⁻ᐟ⁻'"}], "mark": {"type": "point", "shape": "circle", "filled": true, "size": 60, "fill": "white", "stroke": "black", "strokeWidth": 1.3, "opacity": 1}},
        {"data": {"name": "ptsB"}, "transform": [{"filter": "datum.g === 'MBL-A⁻ᐟ⁻'"}], "mark": {"type": "point", "shape": "square", "filled": true, "size": 60, "fill": "#a8a8a8", "stroke": "#a8a8a8", "strokeWidth": 1, "opacity": 1}},
        {"data": {"name": "ptsB"}, "transform": [{"filter": "datum.g === 'MBL-C⁻ᐟ⁻'"}], "mark": {"type": "point", "shape": "triangle-up", "filled": true, "size": 60, "fill": "#808080", "stroke": "#808080", "strokeWidth": 1, "opacity": 1}}
       ]
      }
     ]
    },
    {
     "title": {"text": "C", "anchor": "start", "fontSize": 27, "dx": 7, "offset": 0},
     "vconcat": [
      {
       "width": 223, "height": 148,
       "title": {"text": "C3c deposition on acBSA", "fontSize": 16, "offset": 17},
       "encoding": {
        "x": {"field": "x", "type": "quantitative", "scale": {"type": "log", "domain": [0.5, 20], "nice": false},
              "axis": {"values": [0.5,0.6,0.7,0.8,0.9,1,2,3,4,5,6,7,8,9,10,20], "labelExpr": "datum.value == 1 || datum.value == 10 ? datum.label : ''", "format": "~g", "tickSize": {"condition": {"test": "datum.value == 1 || datum.value == 10", "value": 6}, "value": 3.5}, "title": "plasma%", "titleFontSize": 17, "titleFontWeight": "normal", "labelFontSize": 12, "labelFontWeight": "bold", "labelFlush": false, "labelPadding": 2, "titlePadding": 0}},
        "y": {"field": "y", "type": "quantitative", "scale": {"domain": [0, 1.8], "nice": false},
              "axis": {"values": [0, 0.5, 1, 1.5], "format": ".1f", "title": "OD 405 nm", "titleFontSize": 16, "titleFontWeight": "bold", "titlePadding": -3, "labelFontSize": 12, "labelFontWeight": "bold", "tickSize": 5, "labelPadding": 1}}
       },
       "layer": [
        {"data": {"name": "curveC"}, "transform": [{"filter": "datum.g !== 'MBL⁻ᐟ⁻'"}], "mark": {"type": "line", "strokeWidth": 1.8, "interpolate": "monotone"},
         "encoding": {
          "color": {"field": "g", "type": "nominal", "scale": {"domain": ["MBL⁻ᐟ⁻","MBL-A⁻ᐟ⁻","MBL-C⁻ᐟ⁻","WT"], "range": ["black","#b0b0b0","#808080","black"]},
                    "legend": {"title": null, "orient": "right", "offset": -27, "padding": 5, "labelFontSize": 13, "symbolSize": 100, "rowPadding": 0, "labelOffset": 6,
                               "encode": {"symbols": {"update": {
                                 "shape": {"signal": "datum.value === 'WT' ? 'M-2.3,0H0.3M0.3,0A0.8,0.8,0,1,1,1.9,0A0.8,0.8,0,1,1,0.3,0Z' : datum.value === 'MBL⁻ᐟ⁻' ? 'M-1.5,0H-0.6M0.3,0A0.8,0.8,0,1,1,1.9,0A0.8,0.8,0,1,1,0.3,0Z' : datum.value === 'MBL-A⁻ᐟ⁻' ? 'M-2.3,0H0.35M0.35,-0.75H1.85V0.75H0.35Z' : 'M-2.3,0H0.3M1.1,-0.85L1.95,0.7H0.25Z'"},
                                 "fill": {"signal": "datum.value === 'WT' ? 'black' : datum.value === 'MBL⁻ᐟ⁻' ? 'white' : datum.value === 'MBL-A⁻ᐟ⁻' ? '#a8a8a8' : '#808080'"},
                                 "stroke": {"signal": "datum.value === 'MBL-A⁻ᐟ⁻' ? '#a8a8a8' : datum.value === 'MBL-C⁻ᐟ⁻' ? '#808080' : 'black'"},
                                 "strokeWidth": {"value": 1.6}, "opacity": {"value": 1}}}}}}
         }},
        {"data": {"name": "curveC"}, "transform": [{"filter": "datum.g === 'MBL⁻ᐟ⁻'"}], "mark": {"type": "line", "strokeWidth": 1.8, "interpolate": "monotone", "strokeDash": [5, 4]},
         "encoding": {"color": {"field": "g", "type": "nominal"}}},
        {"data": {"name": "ptsC2"}, "transform": [{"filter": "datum.g === 'WT'"}], "mark": {"type": "point", "shape": "circle", "filled": true, "size": 60, "fill": "black", "stroke": "black", "strokeWidth": 1.3, "opacity": 1}},
        {"data": {"name": "ptsC2"}, "transform": [{"filter": "datum.g === 'MBL⁻ᐟ⁻'"}], "mark": {"type": "point", "shape": "circle", "filled": true, "size": 60, "fill": "white", "stroke": "black", "strokeWidth": 1.3, "opacity": 1}},
        {"data": {"name": "ptsC2"}, "transform": [{"filter": "datum.g === 'MBL-A⁻ᐟ⁻'"}], "mark": {"type": "point", "shape": "square", "filled": true, "size": 60, "fill": "#a8a8a8", "stroke": "#a8a8a8", "strokeWidth": 1, "opacity": 1}},
        {"data": {"name": "ptsC2"}, "transform": [{"filter": "datum.g === 'MBL-C⁻ᐟ⁻'"}], "mark": {"type": "point", "shape": "triangle-up", "filled": true, "size": 60, "fill": "#808080", "stroke": "#808080", "strokeWidth": 1, "opacity": 1}}
       ]
      }
     ]
    }
   ]
  }
 ]
}
